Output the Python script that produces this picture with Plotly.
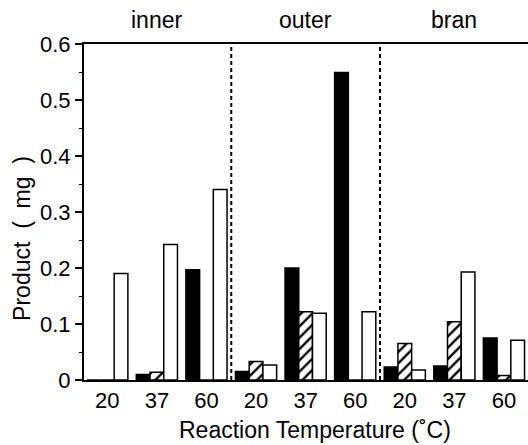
import plotly.graph_objects as go

groups = ["inner", "outer", "bran"]
temps = ["20", "37", "60", "20", "37", "60", "20", "37", "60"]
black = [0.0, 0.010, 0.197, 0.015, 0.200, 0.549, 0.023, 0.025, 0.075]
hatched = [0.0, 0.014, 0.0, 0.033, 0.122, 0.0, 0.065, 0.104, 0.008]
white = [0.190, 0.242, 0.340, 0.027, 0.119, 0.122, 0.018, 0.193, 0.071]
yticks = [0, 0.1, 0.2, 0.3, 0.4, 0.5, 0.6]
yticktext = ["0", "0.1", "0.2", "0.3", "0.4", "0.5", "0.6"]

x = list(range(len(temps)))
FONT = "Liberation Sans, Arial, Helvetica, sans-serif"
NB = "\u00a0"

fig = go.Figure()
fig.add_trace(go.Bar(x=x, y=black, marker=dict(color="black", line=dict(color="black", width=1.5))))
fig.add_trace(go.Bar(x=x, y=hatched, marker=dict(color="white", line=dict(color="black", width=1.5),
                                                 pattern=dict(shape="/", fgcolor="black", bgcolor="white",
                                                              size=8, solidity=0.3, fillmode="replace"))))
fig.add_trace(go.Bar(x=x, y=white, marker=dict(color="white", line=dict(color="black", width=1.5))))

for xv in [2.5, 5.5]:
    fig.add_shape(type="line", x0=xv, x1=xv, y0=0, y1=0.6, xref="x", yref="y",
                  line=dict(color="black", width=2, dash="4px,3px"))

for i, g in enumerate(groups):
    fig.add_annotation(x=3 * i + 1, y=1, xref="x", yref="paper", yanchor="middle", yshift=24,
                       text=g, showarrow=False, font=dict(size=23, color="black", family=FONT))

ytitle = "Product" + NB * 2 + "(" + NB * 2 + "mg" + NB * 2 + ")"
fig.add_annotation(x=0, y=0.42, xref="paper", yref="paper", xanchor="center", yanchor="middle",
                   xshift=-62, textangle=-90, text=ytitle, showarrow=False,
                   font=dict(size=23, color="black", family=FONT))
fig.add_annotation(x=0.52, y=0, xref="paper", yref="paper", xanchor="center", yanchor="middle",
                   yshift=-50, text="Reaction Temperature (˚C)", showarrow=False,
                   font=dict(size=23, color="black", family=FONT))

xr = [-0.47, 8.485]
fig.update_layout(
    width=528, height=445,
    margin=dict(l=84, r=0, t=44, b=65),
    paper_bgcolor="white", plot_bgcolor="white",
    barmode="group", bargap=0.17, bargroupgap=0,
    showlegend=False,
    font=dict(family=FONT, size=22, color="black"),
    xaxis=dict(range=xr, tickvals=x, ticktext=temps, ticks="",
               showline=True, linecolor="black", linewidth=2, mirror=True, showgrid=False,
               zeroline=False, tickfont=dict(size=22)),
    yaxis=dict(range=[0, 0.6], tickvals=yticks, ticktext=yticktext, ticks="outside", ticklen=7,
               tickwidth=1.5, tickcolor="black", showline=True, linecolor="black", linewidth=2,
               showgrid=False, zeroline=False, tickfont=dict(size=22),
               minor=dict(tick0=0.05, dtick=0.1, ticks="outside", ticklen=3, tickcolor="black", tickwidth=1)),
)

fig.write_html("out.html")
